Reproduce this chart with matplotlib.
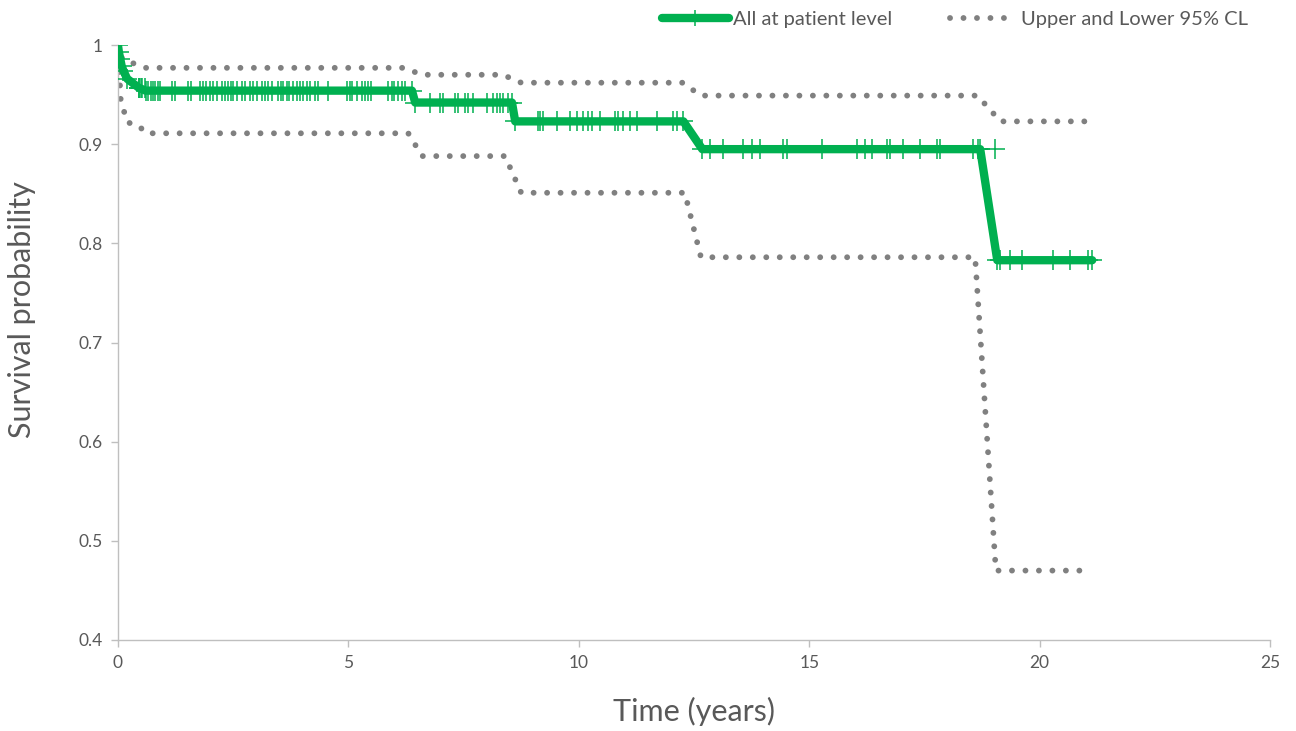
import numpy as np
import matplotlib.pyplot as plt
from matplotlib.lines import Line2D

# Kaplan-Meier estimate (vertices of the curve, years / survival)
km_t = [0, 0.02, 0.05, 0.08, 0.12, 0.2, 0.45, 0.6, 6.38, 6.45, 8.55, 8.62,
        12.27, 12.68, 18.71, 19.08, 21.14]
km_s = [1.0, 0.993, 0.986, 0.979, 0.974, 0.966, 0.957, 0.954, 0.954, 0.942,
        0.942, 0.923, 0.923, 0.895, 0.895, 0.783, 0.783]

# 95% confidence limits
upper_t = [0, 0.1, 0.25, 0.6, 6.2, 6.6, 8.35, 8.75, 12.25, 12.65, 18.65, 19.15, 21.14]
upper_s = [1.0, 0.985, 0.983, 0.977, 0.977, 0.970, 0.970, 0.962, 0.962, 0.949,
           0.949, 0.923, 0.923]
lower_t = [0, 0.06, 0.2, 0.45, 0.6, 6.3, 6.6, 8.4, 8.75, 12.3, 12.65, 18.6, 19.05, 21.14]
lower_s = [1.0, 0.945, 0.922, 0.919, 0.911, 0.911, 0.888, 0.888, 0.851, 0.851,
           0.786, 0.786, 0.470, 0.470]

# censored observations (years)
censor_t = [0.46, 0.50, 0.52, 0.59, 0.65, 0.72, 0.76, 0.80, 0.87, 0.91, 1.17, 1.24,
            1.52, 1.58, 1.78, 1.84, 1.91, 2.00, 2.06, 2.15, 2.26, 2.32, 2.39, 2.45,
            2.50, 2.58, 2.69, 2.76, 2.86, 2.93, 3.02, 3.12, 3.19, 3.26, 3.34, 3.47,
            3.54, 3.58, 3.67, 3.71, 3.80, 3.88, 3.95, 4.01, 4.10, 4.17, 4.28, 4.34,
            4.56, 4.97, 5.03, 5.08, 5.19, 5.30, 5.36, 5.43, 5.49, 5.86, 5.95, 5.99,
            6.08, 6.16, 6.23,
            6.77, 6.99, 7.05, 7.31, 7.38, 7.53, 7.60, 7.70, 8.01, 8.14, 8.22, 8.29,
            8.35, 8.46,
            9.11, 9.16, 9.22, 9.53, 9.81, 9.96, 10.09, 10.20, 10.29, 10.46, 10.79,
            10.85, 10.96, 11.11, 11.26, 11.70, 12.04, 12.13,
            12.85, 13.13, 13.56, 13.76, 13.93, 14.43, 14.52, 15.28, 16.04, 16.21,
            16.36, 16.69, 16.75, 17.04, 17.40, 17.77, 17.84, 18.55, 18.66,
            19.03, 19.14, 19.36, 19.62, 20.29, 20.66, 21.05]

green = '#00B050'
grey = '#808080'
text_c = '#595959'
font = 'Lato'

fig = plt.figure(figsize=(12.96, 7.31), dpi=100)
ax = fig.add_axes([0.091, 0.1245, 0.889, 0.8139])

# survival at each censor time = value of the step curve just before it
km_t_arr = np.array(km_t)
km_s_arr = np.array(km_s)
idx = np.searchsorted(km_t_arr, censor_t, side='right') - 1
censor_s = km_s_arr[idx]

dots = (0, (0.01, 2.3))
ax.plot(upper_t, upper_s, color=grey, lw=4.2, ls=dots, dash_capstyle='round', zorder=2)
ax.plot(lower_t, lower_s, color=grey, lw=4.2, ls=dots, dash_capstyle='round', zorder=2)
ax.plot(km_t, km_s, color=green, lw=6.0, marker='+', ms=14, mew=1.1,
        solid_joinstyle='round', solid_capstyle='round', zorder=3)
ax.plot(censor_t, censor_s, ls='none', color=green, marker='+', ms=14, mew=1.1, zorder=3)

ax.set_xlim(0, 25)
ax.set_ylim(0.4, 1.0)
ax.set_xticks([0, 5, 10, 15, 20, 25])
ax.set_yticks([0.4, 0.5, 0.6, 0.7, 0.8, 0.9, 1.0])
ax.set_yticklabels(['0.4', '0.5', '0.6', '0.7', '0.8', '0.9', '1'])

for side in ['top', 'right']:
    ax.spines[side].set_visible(False)
for side in ['left', 'bottom']:
    ax.spines[side].set_color('#BFBFBF')
    ax.spines[side].set_linewidth(1.0)
ax.tick_params(axis='both', colors='#BFBFBF', length=5, width=1.0,
               labelcolor=text_c, labelsize=12.5, pad=6)
for lab in ax.get_xticklabels() + ax.get_yticklabels():
    lab.set_family(font)
ax.patch.set_alpha(0)

ax.set_xlabel('Time (years)', fontsize=22, color=text_c, family=font)
ax.set_ylabel('Survival probability', fontsize=22, color=text_c, family=font)
ax.xaxis.set_label_coords(0.5, -0.095)
ax.yaxis.set_label_coords(-0.071, 0.555)

handles = [
    Line2D([], [], color=green, lw=6.0, marker='+', ms=12, mew=1.1,
           solid_capstyle='round'),
    Line2D([], [], color=grey, lw=4.2, ls=dots, dash_capstyle='round'),
]
fig.legend(handles, ['All at patient level', 'Upper and Lower 95% CL'],
           loc='center left', bbox_to_anchor=(0.497, 0.974), ncol=2, frameon=False,
           handlelength=3.3, handletextpad=0.2, columnspacing=2.9,
           prop={'family': font, 'size': 14.5}, labelcolor=text_c)

fig.savefig('out.png', dpi=100)
